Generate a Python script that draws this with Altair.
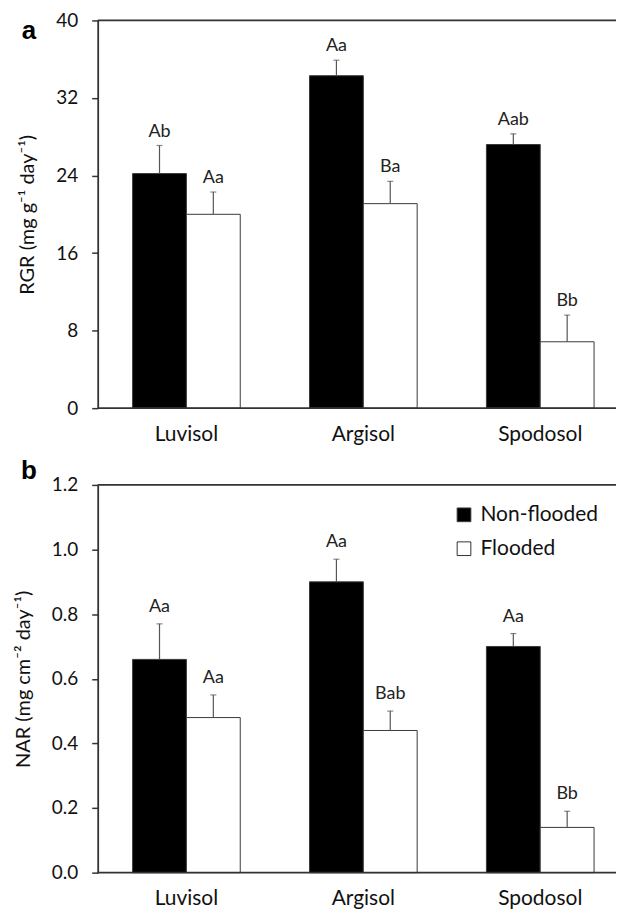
import altair as alt
import pandas as pd

soils = ["Luvisol", "Argisol", "Spodosol"]
treatments = ["Non-flooded", "Flooded"]

rgr_nonflooded = [24.2, 34.3, 27.2]
rgr_nonflooded_se = [2.9, 1.6, 1.1]
rgr_flooded = [20.0, 21.1, 6.85]
rgr_flooded_se = [2.3, 2.3, 2.75]
rgr_letters_nonflooded = ["Ab", "Aa", "Aab"]
rgr_letters_flooded = ["Aa", "Ba", "Bb"]

nar_nonflooded = [0.66, 0.90, 0.70]
nar_nonflooded_se = [0.11, 0.07, 0.04]
nar_flooded = [0.48, 0.44, 0.14]
nar_flooded_se = [0.07, 0.06, 0.05]
nar_letters_nonflooded = ["Aa", "Aa", "Aa"]
nar_letters_flooded = ["Aa", "Bab", "Bb"]

rgr_ticks = [0, 8, 16, 24, 32, 40]
nar_ticks = [0.0, 0.2, 0.4, 0.6, 0.8, 1.0, 1.2]

W = 520
H = 389
AX = "#333333"
FONT = "Lato"


def make_df(nf, nf_se, fl, fl_se, l_nf, l_fl):
    return pd.DataFrame({
        "soil": soils * 2,
        "trt": [treatments[0]] * 3 + [treatments[1]] * 3,
        "value": nf + fl,
        "top": [v + e for v, e in zip(nf + fl, nf_se + fl_se)],
        "letter": l_nf + l_fl,
    })


def panel(df, ymax, ticks, fmt, ytitle, tag, tag_y, text_dy, legend):
    base = alt.Chart(df)
    x = alt.X("soil:N", sort=soils,
              scale=alt.Scale(paddingInner=0.3915, paddingOuter=0.1606, align=0.614),
              axis=alt.Axis(title=None, labelAngle=0, ticks=False, domain=False,
                            labelPadding=15, labelFontSize=21, labelFont=FONT,
                            labelColor="#111"))
    xo = alt.XOffset("trt:N", sort=treatments,
                     scale=alt.Scale(paddingInner=0, paddingOuter=0))
    yscale = alt.Scale(domain=[0, ymax], nice=False, zero=True)
    y = alt.Y("value:Q", scale=yscale,
              axis=alt.Axis(values=ticks, format=fmt, title=ytitle, grid=False,
                            tickSize=6, tickColor=AX, domainColor=AX,
                            tickWidth=1.5, domainWidth=1.8,
                            labelPadding=14, labelFontSize=19, labelFont=FONT,
                            labelColor="#111", titleFont=FONT, titleFontSize=20,
                            titleFontWeight="normal", titleColor="#111",
                            titlePadding=18))
    if legend:
        leg = alt.Legend(title=None, orient="none", legendX=357, legendY=19.5,
                         symbolType="square", symbolSize=188,
                         symbolStrokeColor="#333", symbolStrokeWidth=1,
                         labelFont=FONT, labelFontSize=21, labelColor="#111",
                         rowPadding=12, padding=0, labelOffset=6)
    else:
        leg = None
    fill = alt.Fill("trt:N", sort=treatments,
                    scale=alt.Scale(domain=treatments, range=["#000000", "#ffffff"]),
                    legend=leg)
    bars = base.mark_bar(stroke="#3a3a3a", strokeWidth=1).encode(
        x=x, xOffset=xo, y=y, fill=fill)
    err = base.mark_rule(color="#555555", strokeWidth=1.2).encode(
        x=x, xOffset=xo, y=alt.Y("value:Q", scale=yscale), y2="top:Q")
    cap = base.mark_tick(color="#555555", thickness=1.2, size=6,
                         orient="horizontal").encode(
        x=x, xOffset=xo, y=alt.Y("top:Q", scale=yscale))
    txt = base.mark_text(baseline="alphabetic", dy=text_dy, fontSize=18,
                         font=FONT, color="#222222").encode(
        x=x, xOffset=xo, y=alt.Y("top:Q", scale=yscale), text="letter:N")
    frame = alt.Chart(pd.DataFrame({"yv": [0, ymax]})).mark_rule(
        color=AX, strokeWidth=1.8).encode(
        y=alt.Y("yv:Q", scale=yscale), x=alt.value(0), x2=alt.value(W))
    tagc = alt.Chart(pd.DataFrame({"t": [tag]})).mark_text(
        font="Liberation Sans", fontWeight="bold", fontSize=26,
        baseline="alphabetic", align="center", color="#000000").encode(
        text="t:N", x=alt.value(-69), y=alt.value(tag_y))
    return alt.layer(bars, err, cap, txt, frame, tagc).properties(
        width=W, height=H,
        view=alt.ViewBackground(stroke="transparent", strokeWidth=0))


df_a = make_df(rgr_nonflooded, rgr_nonflooded_se, rgr_flooded, rgr_flooded_se,
               rgr_letters_nonflooded, rgr_letters_flooded)
df_b = make_df(nar_nonflooded, nar_nonflooded_se, nar_flooded, nar_flooded_se,
               nar_letters_nonflooded, nar_letters_flooded)

pa = panel(df_a, 40, rgr_ticks, "d", "RGR (mg g\u207b\u00b9 day\u207b\u00b9)", "a", 19, -9, False)
pb = panel(df_b, 1.2, nar_ticks, ".1f", "NAR (mg cm\u207b\u00b2 day\u207b\u00b9)", "b", -6, -12, True)

chart = alt.vconcat(pa, pb, spacing=14).resolve_scale(
    fill="independent", x="independent", y="independent", xOffset="independent"
).properties(
    padding={"left": 5, "top": 2, "right": 0, "bottom": 0}
).configure_view(strokeWidth=0, stroke="transparent").configure(background="white")

chart.save("out.html", embed_options={"renderer": "svg", "actions": False})
